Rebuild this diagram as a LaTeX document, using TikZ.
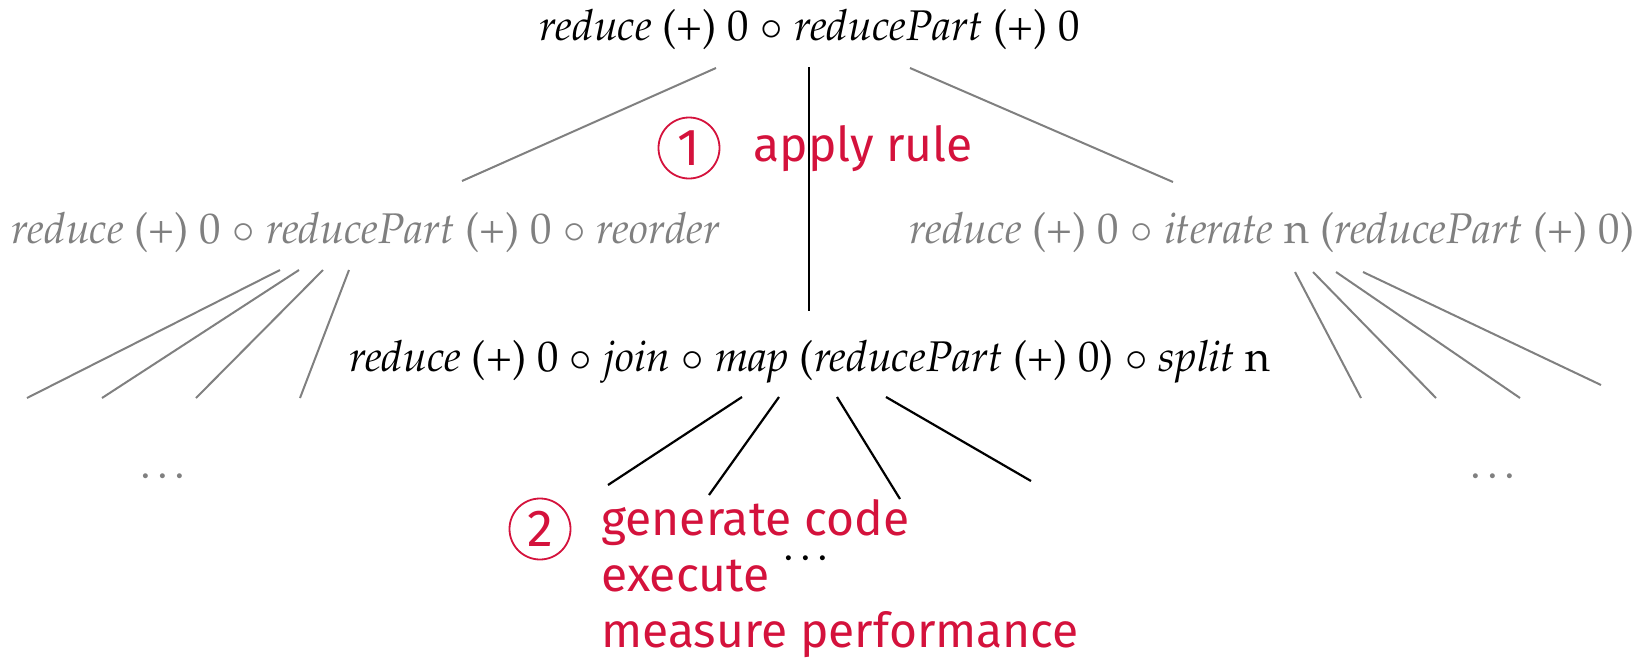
\documentclass[tikz,border=0pt]{standalone}
\usepackage[T1]{fontenc}
\usepackage{mathpazo}
\usepackage[no-math]{fontspec}
\newfontfamily\firafont{Fira Sans}
\newcommand\palfont{\fontencoding{T1}\fontfamily{ppl}\selectfont}
\definecolor{stepred}{RGB}{212,18,60}
\definecolor{altgray}{RGB}{128,128,128}
\tikzset{
  expr/.style={font=\palfont\fontsize{21.45}{25}\selectfont, inner sep=0pt, anchor=base},
  altexpr/.style={expr, text=altgray},
  redtxt/.style={font=\firafont\fontsize{24}{28}\selectfont, text=stepred, inner sep=0pt, anchor=base west, align=left},
  stepnum/.style={circle, draw=stepred, line width=0.9pt, minimum size=30.5pt, inner sep=0pt, text=stepred, font=\firafont\fontsize{26}{28}\selectfont},
  altline/.style={draw=altgray, line width=1pt},
  mainline/.style={draw=black, line width=1.1pt},
}
\begin{document}
\begin{tikzpicture}[x=0.5pt,y=-0.5pt]
\useasboundingbox (0,0) rectangle (1648,659);
% expressions
\node[expr] (top) at (810,40) {\textit{reduce} (+) 0 $\circ$ \textit{reducePart} (+) 0};
\node[altexpr] (left) at (366,243) {\textit{reduce} (+) 0 $\circ$ \textit{reducePart} (+) 0 $\circ$ \textit{reorder}};
\node[altexpr] (right) at (1272,243) {\textit{reduce} (+) 0 $\circ$ \textit{iterate} n (\textit{reducePart} (+) 0)};
\node[expr] (mid) at (810,371) {\textit{reduce} (+) 0 $\circ$ \textit{join} $\circ$ \textit{map} (\textit{reducePart} (+) 0) $\circ$ \textit{split} n};
% dots
\node[expr, anchor=center, text=altgray] (dotsL) at (166,476) {\ldots};
\node[expr, anchor=center, text=altgray] (dotsR) at (1496,476) {\ldots};
\node[expr, anchor=center] (dotsM) at (809,558) {\ldots};
% steps
\node[stepnum] (s1) at (689,148) {1};
\node[redtxt] (s1t) at (753,161) {apply rule};
\node[stepnum] (s2) at (540,529) {2};
\node[redtxt] (s2t) at (601,647) {generate code\\execute\\measure performance};
% top-level connectors
\coordinate (tL) at (716,68);  \coordinate (lT) at (462,181);
\coordinate (tR) at (910,68);  \coordinate (rT) at (1173,182);
\coordinate (tM) at (809,67);  \coordinate (mT) at (809,311);
\draw[altline] (tL) -- (lT);
\draw[altline] (tR) -- (rT);
\draw[mainline] (tM) -- (mT);
% left fan
\coordinate (l1) at (280,270); \coordinate (l1e) at (27,398);
\coordinate (l2) at (299,270); \coordinate (l2e) at (102,398);
\coordinate (l3) at (323,270); \coordinate (l3e) at (196,398);
\coordinate (l4) at (349,270); \coordinate (l4e) at (300,398);
\draw[altline] (l1) -- (l1e) (l2) -- (l2e) (l3) -- (l3e) (l4) -- (l4e);
% right fan
\coordinate (r1) at (1295,272); \coordinate (r1e) at (1361,398);
\coordinate (r2) at (1313,272); \coordinate (r2e) at (1436,398);
\coordinate (r3) at (1336,272); \coordinate (r3e) at (1520,398);
\coordinate (r4) at (1363,272); \coordinate (r4e) at (1601,385);
\draw[altline] (r1) -- (r1e) (r2) -- (r2e) (r3) -- (r3e) (r4) -- (r4e);
% middle fan
\coordinate (m1) at (742,397); \coordinate (m1e) at (608,485);
\coordinate (m2) at (779,397); \coordinate (m2e) at (709,495);
\coordinate (m3) at (837,397); \coordinate (m3e) at (900,499);
\coordinate (m4) at (886,397); \coordinate (m4e) at (1031,481);
\draw[mainline] (m1) -- (m1e) (m2) -- (m2e) (m3) -- (m3e) (m4) -- (m4e);
\end{tikzpicture}
\end{document}
